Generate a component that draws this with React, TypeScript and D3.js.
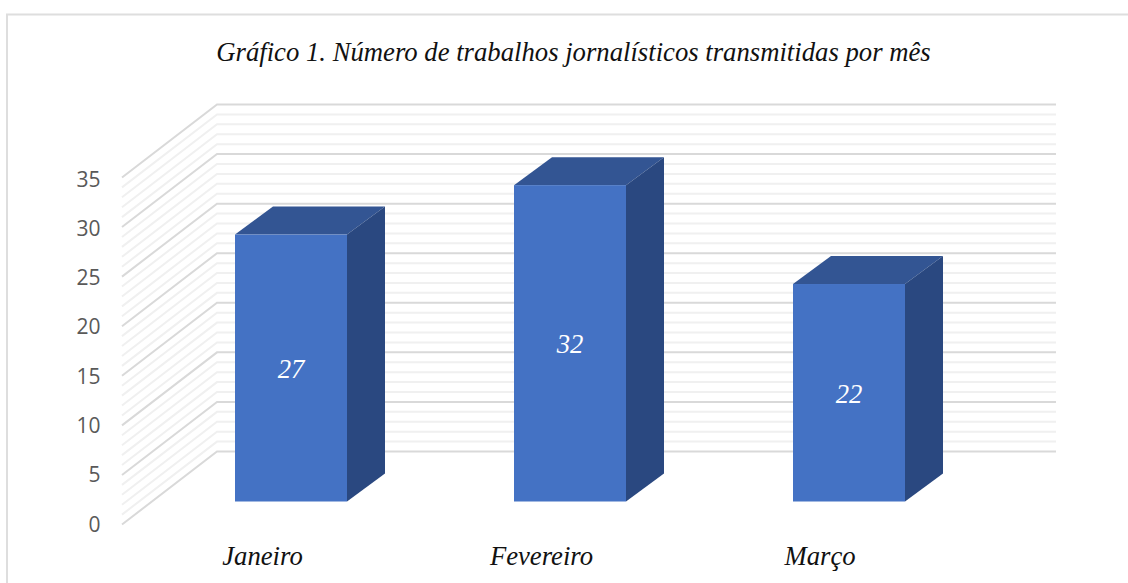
import React from 'react'
import * as d3 from 'd3'

const categories = ['Janeiro', 'Fevereiro', 'Março']
const values = [27, 32, 22]
const yTicks = [0, 5, 10, 15, 20, 25, 30, 35]
const minorTicks = d3.range(0, 35).filter((v) => v % 5 !== 0)
const title = 'Gráfico 1. Número de trabalhos jornalísticos transmitidas por mês'

const width = 1128
const height = 583
const serif = '"Liberation Serif", serif'

// front plane of the 3D box, back wall is shifted by depth
const frontLeft = 122
const backLeft = 217
const backRight = 1056
const depthY = 73

const y = d3.scaleLinear().domain([0, 35]).range([524.5, 177.5])
const yLabel = d3.scaleLinear().domain([0, 35]).range([531.5, 186.5])
const yBar = d3.scaleLinear().domain([0, 35]).range([501.5, 155.5])

const x = d3.scaleBand().domain(categories).range([235, 1072])

const barWidth = 112
const barDepthX = 38
const barDepthY = 28
const barBase = yBar(0)

const labelX = [262.5, 541.5, 820]

const App = () => {
  const poly = d3.line()
  const wall = (t) =>
    poly([
      [frontLeft, y(t)],
      [backLeft, y(t) - depthY],
      [backRight, y(t) - depthY],
    ])
  return (
    <svg
      width={width}
      height={height}
      style={{ position: 'absolute', left: 0, top: 0, background: '#fff' }}
    >
      <path d="M7 583 V14.5 H1128" fill="none" stroke="#dedede" strokeWidth={2} />

      <text
        x={573.5}
        y={61}
        textAnchor="middle"
        fontFamily={serif}
        fontStyle="italic"
        fontSize={26.7}
        fill="#111"
      >
        {title}
      </text>

      {minorTicks.map((t) => (
        <path key={t} d={wall(t)} fill="none" stroke="#f0f0f0" strokeWidth={2} />
      ))}
      {yTicks.map((t) => (
        <g key={t}>
          <path d={wall(t)} fill="none" stroke="#d9d9d9" strokeWidth={2} />
          <text
            x={100.5}
            y={yLabel(t)}
            textAnchor="end"
            fontFamily='"Open Sans", sans-serif'
            fontSize={21}
            fill="#595959"
          >
            {t}
          </text>
        </g>
      ))}

      {categories.map((c, i) => {
        const left = x(c)
        const top = yBar(values[i])
        const right = left + barWidth
        return (
          <g key={c}>
            <path
              d={poly([
                [left, top],
                [left + barDepthX, top - barDepthY],
                [right + barDepthX, top - barDepthY],
                [right, top],
              ]) + 'Z'}
              fill="#335593"
            />
            <path
              d={poly([
                [right, top],
                [right + barDepthX, top - barDepthY],
                [right + barDepthX, barBase - barDepthY],
                [right, barBase],
              ]) + 'Z'}
              fill="#2a4880"
            />
            <rect x={left} y={top} width={barWidth} height={barBase - top} fill="#4472c4" />
            <text
              x={left + barWidth / 2}
              y={(top + barBase) / 2 + 10}
              textAnchor="middle"
              fontFamily={serif}
              fontStyle="italic"
              fontSize={26.7}
              fill="#fff"
            >
              {values[i]}
            </text>
            <text
              x={labelX[i]}
              y={565}
              textAnchor="middle"
              fontFamily={serif}
              fontStyle="italic"
              fontSize={26.7}
              fill="#111"
            >
              {c}
            </text>
          </g>
        )
      })}
    </svg>
  )
}

export default App
